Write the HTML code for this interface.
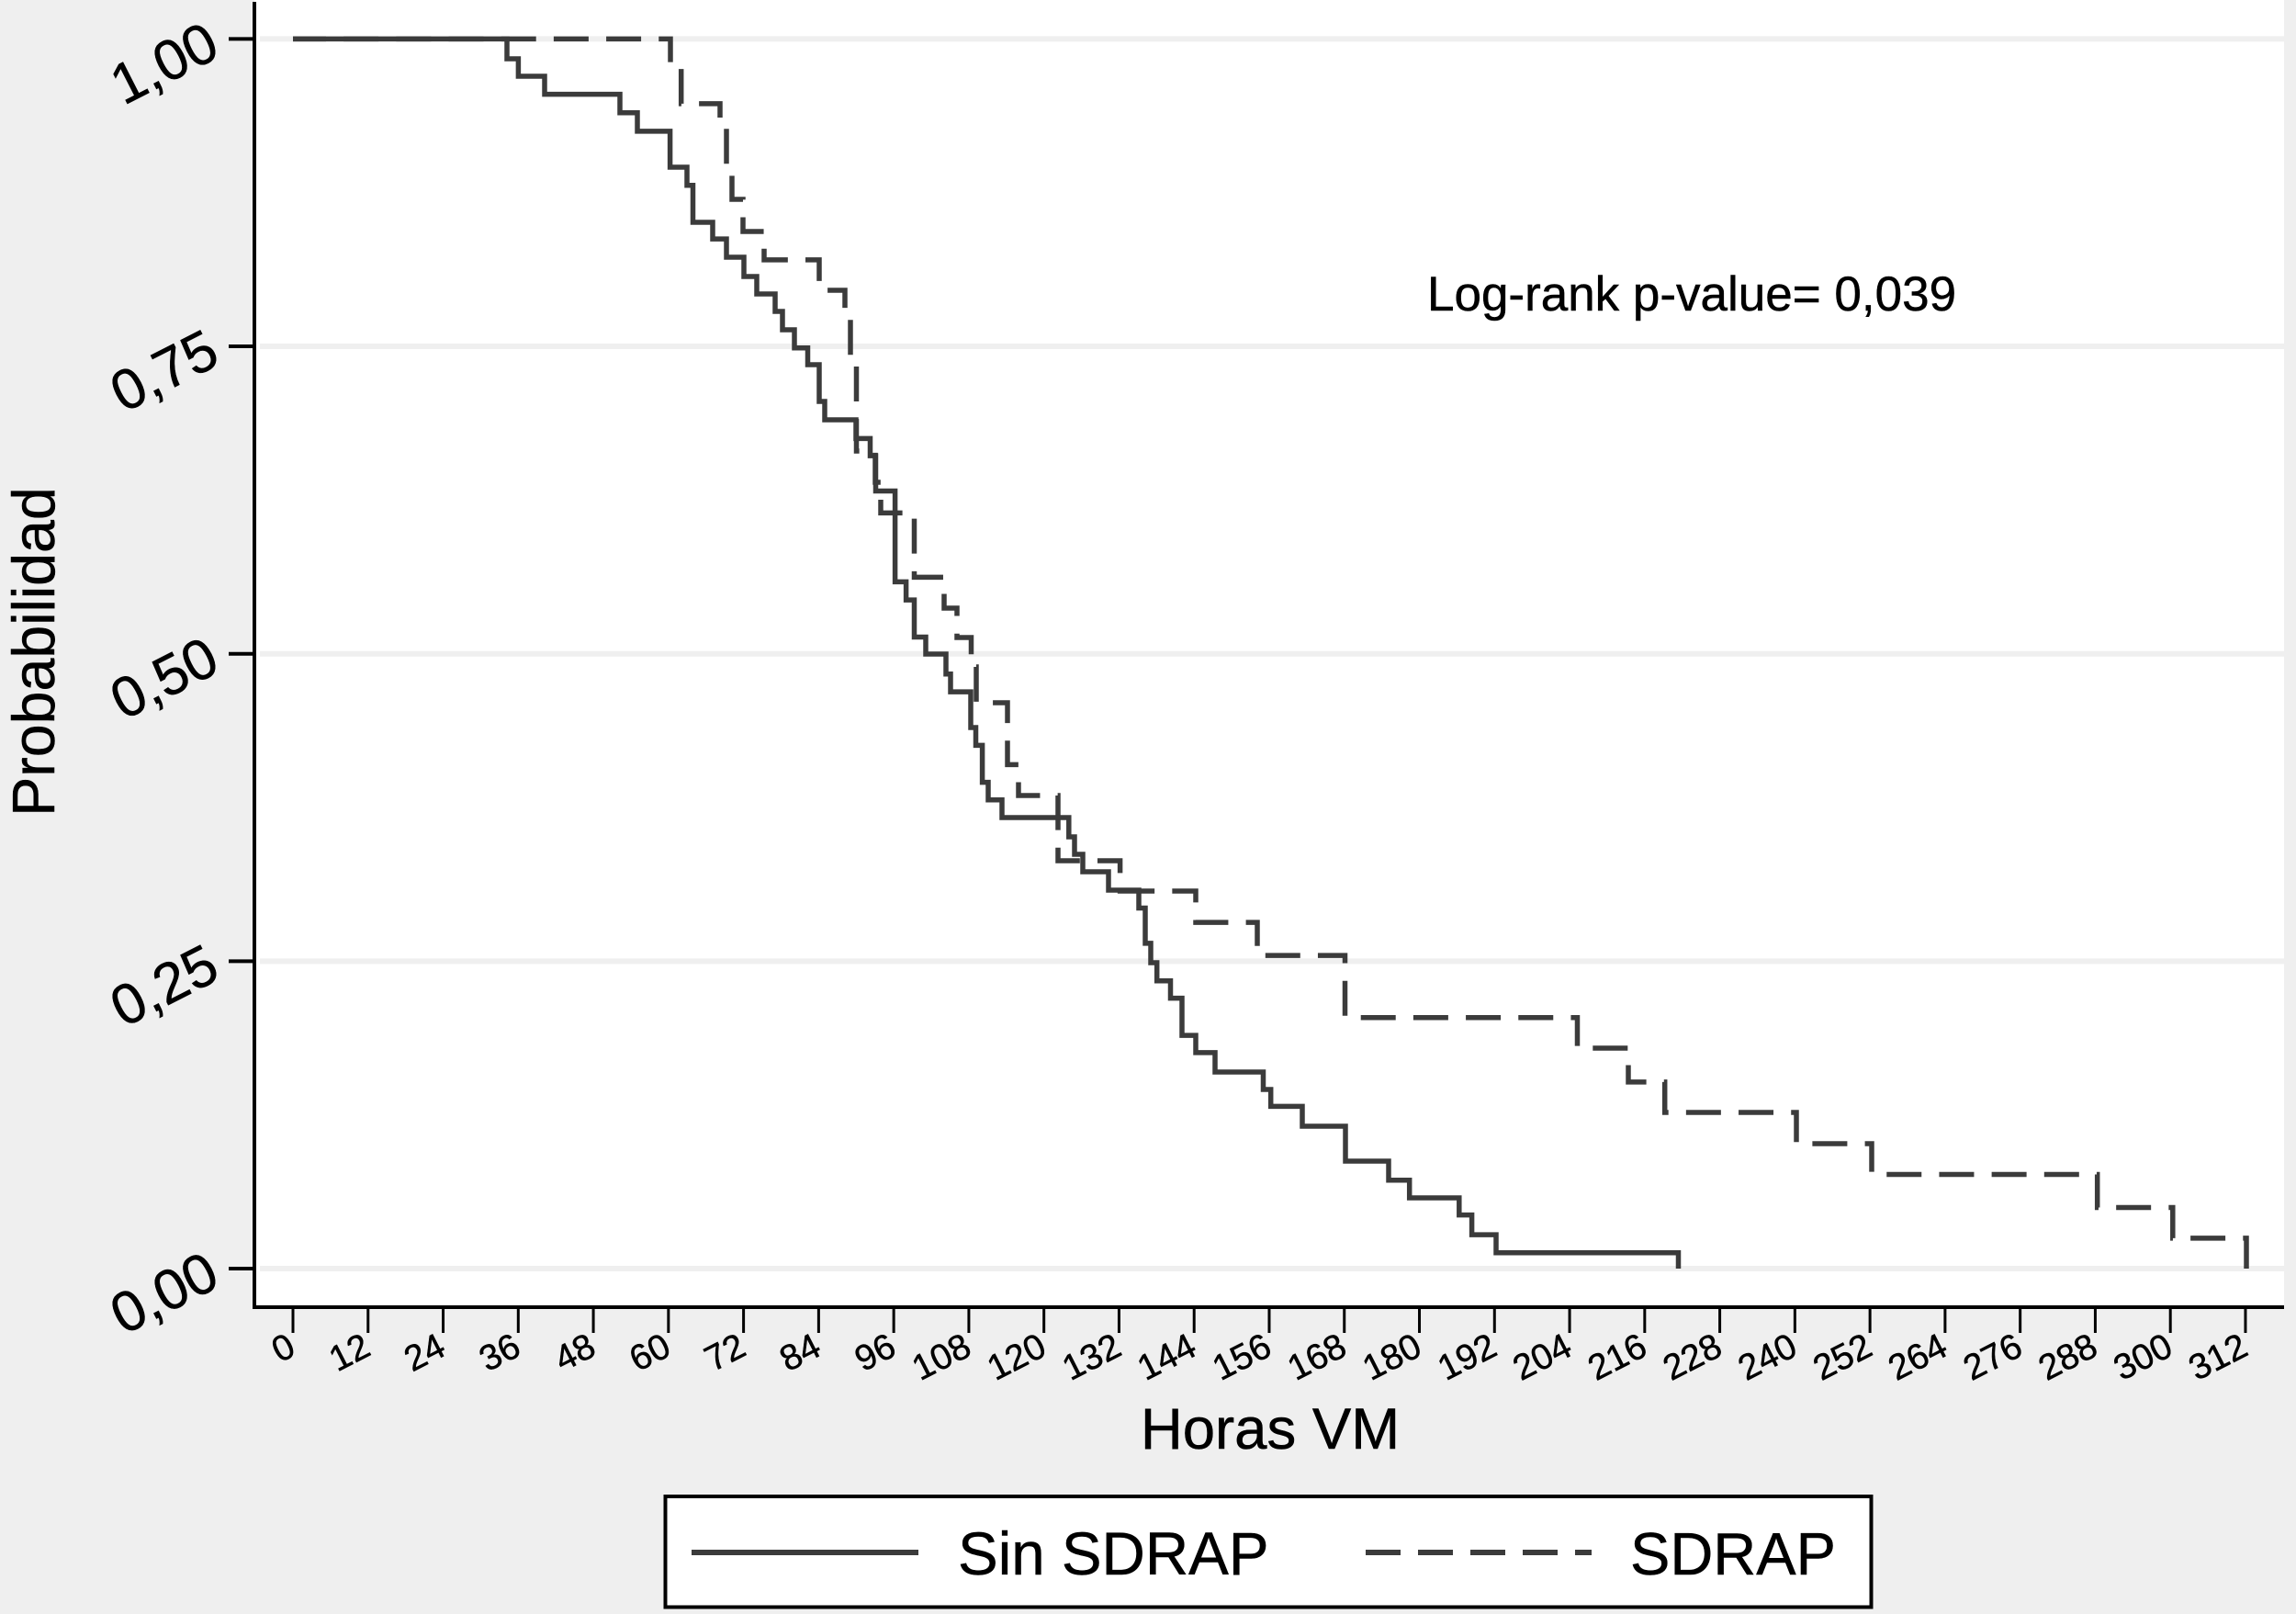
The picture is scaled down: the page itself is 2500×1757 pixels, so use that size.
<!DOCTYPE html>
<html lang="es">
<head>
<meta charset="utf-8">
<title>Curva de Kaplan-Meier: Horas VM</title>
<style>
html,body{margin:0;padding:0;background:#efefef;}
svg{display:block;font-family:"Liberation Sans",Arial,sans-serif;}
text{stroke:#000;stroke-width:0.5px;}
</style>
</head>
<body>
<svg id="chart" xmlns="http://www.w3.org/2000/svg" width="2500" height="1757" viewBox="0 0 2500 1757">
  <rect x="0" y="0" width="2500" height="1757" fill="#efefef"/>
  <rect x="277" y="0" width="2210" height="1423" fill="#ffffff"/>
  <g id="grid"></g>
  <g id="series"></g>
  <g id="axes"></g>
  <text transform="translate(59,709.5) rotate(-90)" text-anchor="middle" font-size="64.5" fill="#000">Probabilidad</text>
  <text x="1383" y="1577" text-anchor="middle" font-size="63.5" fill="#000">Horas VM</text>
  <text x="1554" y="338" font-size="53" fill="#000">Log-rank p-value= 0,039</text>
  <g>
    <rect x="724.5" y="1629" width="1313" height="120.5" fill="#ffffff" stroke="#000" stroke-width="4"/>
    <line x1="753" y1="1690" x2="1000" y2="1690" stroke="#3b3b3b" stroke-width="6"/>
    <text x="1043" y="1714" font-size="65.5" fill="#000">Sin SDRAP</text>
    <line x1="1487" y1="1690" x2="1733" y2="1690" stroke="#3b3b3b" stroke-width="6" stroke-dasharray="38 19"/>
    <text x="1775" y="1714" font-size="65" fill="#000">SDRAP</text>
  </g>
</svg>
<script>
const xTickLabels = [0,12,24,36,48,60,72,84,96,108,120,132,144,156,168,180,192,204,216,228,240,252,264,276,288,300,312];
const yTickValues = [0,0.25,0.5,0.75,1];
const yTickLabels = ["0,00","0,25","0,50","0,75","1,00"];

const sinSdrapHours = [0,34.19,36.01,40.21,52.25,55.03,60.26,62.96,63.91,67.07,69.27,72.06,74.11,77.05,78.22,80.13,82.26,84.09,84.97,89.96,92.24,93.12,96.21,97.97,99.28,101.12,104.34,105.08,108.31,109.11,110.15,111.10,113.30,123.98,124.89,126.21,130.32,135.16,136.19,137.07,138.05,140.23,142.06,144.26,147.34,155.05,156.25,161.29,168.19,175.08,178.41,186.35,188.38,192.25,221.38];
const sinSdrapProb = [1,0.9839,0.9697,0.9550,0.9399,0.9249,0.8957,0.8809,0.8509,0.8374,0.8225,0.8068,0.7926,0.7784,0.7635,0.7488,0.7351,0.7052,0.6903,0.6750,0.6611,0.6324,0.5585,0.5438,0.5136,0.4998,0.4836,0.4691,0.4400,0.4255,0.3955,0.3812,0.3668,0.3511,0.3369,0.3227,0.3078,0.2932,0.2645,0.2488,0.2340,0.2199,0.1897,0.1756,0.1599,0.1457,0.1319,0.1158,0.0874,0.0719,0.0575,0.0436,0.0276,0.0129,0];

const sdrapHours = [0,60.32,62.03,68.24,69.27,70.15,71.91,75.29,84.09,88.20,89.08,90.03,93.04,93.92,99.28,104.05,106.11,108.38,109.19,114.17,115.94,122.25,132.17,144.26,154.09,168.11,205.24,213.38,219.21,240.24,252.27,288.33,300.38,312.15];
const sdrapProb = [1,0.9764,0.9473,0.9278,0.8897,0.8696,0.8434,0.8203,0.7956,0.7739,0.7366,0.6649,0.6395,0.6145,0.5622,0.5371,0.5132,0.4893,0.4602,0.4098,0.3847,0.3317,0.3070,0.2816,0.2547,0.2042,0.1793,0.1517,0.1270,0.1016,0.0766,0.0497,0.0247,0];

const SVG_NS = "http://www.w3.org/2000/svg";
const X0 = 319, X_PER_HOUR = 6.814;
const Y0 = 1381, Y_SPAN = 1338.6;
const xScale = h => X0 + h * X_PER_HOUR;
const yScale = p => Y0 - p * Y_SPAN;

function stepPath(hours, probs) {
  let d = "M" + xScale(hours[0]).toFixed(1) + " " + yScale(probs[0]).toFixed(1);
  for (let i = 1; i < hours.length; i++) {
    d += "H" + xScale(hours[i]).toFixed(1) + "V" + yScale(probs[i]).toFixed(1);
  }
  return d;
}

function make(tag, attrs, parent) {
  const el = document.createElementNS(SVG_NS, tag);
  for (const k in attrs) el.setAttribute(k, attrs[k]);
  parent.appendChild(el);
  return el;
}

const gridG = document.getElementById("grid");
const axesG = document.getElementById("axes");
const seriesG = document.getElementById("series");

yTickValues.forEach((v, i) => {
  const y = yScale(v);
  const grid = make("line", {x1: 283, x2: 2487, y1: y, y2: y, stroke: "#efefef", "stroke-width": 6}, gridG);
  
  
  const tick = make("line", {x1: 249, x2: 277, y1: y, y2: y, stroke: "#000", "stroke-width": 4}, axesG);
  
  
  const label = make("text", {transform: "translate(242," + (y + 18) + ") rotate(-27)", "text-anchor": "end", "font-size": 62, fill: "#000"}, axesG);
  
  
  label.textContent = yTickLabels[i];
});

xTickLabels.forEach(v => {
  const x = xScale(v);
  const tick = make("line", {x1: x, x2: x, y1: 1423, y2: 1451, stroke: "#000", "stroke-width": 3}, axesG);
  
  
  const label = make("text", {transform: "translate(" + (x + 5) + ",1474) rotate(-27)", "text-anchor": "end", "font-size": 39, fill: "#000"}, axesG);
  
  
  label.textContent = String(v);
});

const yAxis = make("line", {x1: 277, x2: 277, y1: 2, y2: 1425, stroke: "#000", "stroke-width": 4}, axesG);


const xAxis = make("line", {x1: 275, x2: 2487, y1: 1423, y2: 1423, stroke: "#000", "stroke-width": 4}, axesG);



const sdrapLine = make("path", {d: stepPath(sdrapHours, sdrapProb), fill: "none", stroke: "#3b3b3b", "stroke-width": 5.5, "stroke-dasharray": "38 19.18", "stroke-dashoffset": 2}, seriesG);


const sinLine = make("path", {d: stepPath(sinSdrapHours, sinSdrapProb), fill: "none", stroke: "#3b3b3b", "stroke-width": 5.5}, seriesG);


</script>
</body>
</html>
